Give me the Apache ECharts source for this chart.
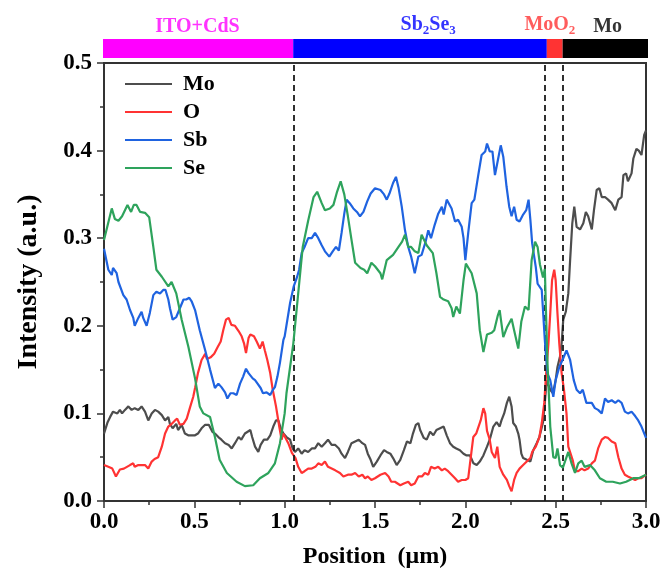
<!DOCTYPE html>
<html>
<head>
<meta charset="utf-8">
<script src="https://cdn.jsdelivr.net/npm/echarts@6/dist/echarts.min.js"></script>
<style>
html,body{margin:0;padding:0;background:#fff;}
#chart{width:669px;height:585px;}
</style>
</head>
<body>
<div id="chart"></div>
<script>
// ---- layer bar ----
const layerNames = ['ITO+CdS', 'Sb2Se3', 'MoO2', 'Mo'];
const layerStart = [0, 1.047, 2.443, 2.53];
const layerEnd = [1.047, 2.443, 2.53, 3.0];
const layerLabelPos = [0.52, 1.79, 2.46, 2.778];
const layerColors = ['#ff00ff', '#0000ff', '#ff3333', '#000000'];

// ---- interface dashed lines ----
const interfaces = [1.05, 2.445, 2.535];

// ---- axis ticks ----
const xTicks = [0.0, 0.5, 1.0, 1.5, 2.0, 2.5, 3.0];
const yTicks = [0.0, 0.1, 0.2, 0.3, 0.4, 0.5];

// ---- series ----
const seriesNames = ['Mo', 'O', 'Sb', 'Se'];

const moX = [0,0.02,0.034,0.05,0.06,0.074,0.088,0.10,0.116,0.135,0.153,0.17,0.19,0.208,0.227,0.245,0.264,0.282,0.30,0.32,0.338,0.356,0.365,0.38,0.40,0.41,0.43,0.448,0.466,0.485,0.504,0.52,0.54,0.56,0.58,0.60,0.614,0.633,0.65,0.67,0.69,0.707,0.725,0.745,0.76,0.78,0.79,0.81,0.82,0.836,0.854,0.867,0.885,0.904,0.92,0.937,0.952,0.965,0.978,0.993,1.01,1.03,1.044,1.057,1.075,1.094,1.11,1.13,1.15,1.168,1.186,1.205,1.223,1.24,1.26,1.28,1.30,1.315,1.334,1.35,1.37,1.39,1.41,1.43,1.445,1.46,1.476,1.49,1.51,1.53,1.55,1.565,1.585,1.60,1.62,1.64,1.66,1.677,1.696,1.71,1.726,1.74,1.75,1.77,1.786,1.805,1.823,1.84,1.86,1.88,1.897,1.915,1.933,1.95,1.97,1.99,2.007,2.026,2.045,2.063,2.08,2.10,2.12,2.135,2.155,2.173,2.19,2.20,2.215,2.23,2.243,2.256,2.265,2.28,2.293,2.30,2.31,2.32,2.34,2.36,2.376,2.395,2.41,2.43,2.44,2.45,2.46,2.47,2.485,2.50,2.51,2.524,2.533,2.542,2.556,2.57,2.58,2.592,2.603,2.616,2.635,2.653,2.667,2.68,2.70,2.712,2.727,2.742,2.755,2.773,2.79,2.81,2.83,2.847,2.865,2.875,2.89,2.90,2.92,2.93,2.947,2.96,2.975,2.99,3.0];
const moY = [0.077,0.09,0.096,0.102,0.102,0.10,0.104,0.10,0.104,0.108,0.104,0.106,0.104,0.108,0.102,0.092,0.10,0.104,0.102,0.098,0.092,0.096,0.088,0.083,0.088,0.081,0.087,0.077,0.075,0.075,0.075,0.077,0.083,0.087,0.087,0.079,0.077,0.073,0.07,0.066,0.064,0.06,0.066,0.073,0.07,0.077,0.079,0.081,0.073,0.062,0.056,0.064,0.07,0.07,0.075,0.085,0.092,0.092,0.083,0.077,0.073,0.07,0.06,0.056,0.06,0.054,0.058,0.056,0.06,0.06,0.066,0.062,0.066,0.07,0.064,0.064,0.06,0.054,0.049,0.056,0.066,0.068,0.07,0.066,0.064,0.054,0.047,0.039,0.045,0.052,0.058,0.056,0.054,0.049,0.041,0.047,0.058,0.068,0.066,0.077,0.087,0.089,0.081,0.072,0.07,0.079,0.075,0.081,0.083,0.085,0.075,0.066,0.062,0.06,0.058,0.054,0.052,0.052,0.043,0.041,0.045,0.052,0.062,0.07,0.085,0.09,0.085,0.092,0.10,0.112,0.119,0.108,0.089,0.085,0.077,0.07,0.054,0.049,0.047,0.045,0.058,0.066,0.073,0.09,0.112,0.138,0.14,0.127,0.123,0.138,0.153,0.165,0.18,0.207,0.216,0.237,0.275,0.317,0.336,0.313,0.31,0.317,0.33,0.325,0.31,0.332,0.355,0.357,0.347,0.347,0.344,0.34,0.332,0.344,0.347,0.372,0.374,0.365,0.374,0.391,0.402,0.40,0.395,0.418,0.423];

const oX = [0,0.024,0.046,0.066,0.088,0.11,0.144,0.162,0.17,0.19,0.227,0.245,0.264,0.28,0.30,0.32,0.338,0.356,0.374,0.393,0.405,0.42,0.44,0.458,0.475,0.494,0.504,0.52,0.54,0.56,0.57,0.59,0.61,0.63,0.646,0.66,0.675,0.69,0.705,0.725,0.745,0.762,0.775,0.786,0.80,0.81,0.83,0.845,0.863,0.878,0.89,0.904,0.92,0.934,0.952,0.97,0.983,0.992,1.02,1.04,1.06,1.075,1.094,1.11,1.13,1.15,1.17,1.186,1.205,1.223,1.24,1.26,1.28,1.306,1.325,1.35,1.37,1.39,1.41,1.43,1.445,1.46,1.48,1.50,1.53,1.556,1.575,1.59,1.61,1.64,1.66,1.684,1.70,1.72,1.74,1.76,1.776,1.795,1.81,1.83,1.85,1.87,1.886,1.905,1.924,1.943,1.96,1.98,2.0,2.016,2.035,2.044,2.06,2.085,2.10,2.11,2.12,2.135,2.146,2.164,2.177,2.19,2.21,2.23,2.243,2.256,2.27,2.284,2.30,2.32,2.34,2.36,2.37,2.39,2.41,2.423,2.437,2.446,2.46,2.47,2.48,2.492,2.50,2.51,2.52,2.533,2.546,2.56,2.57,2.58,2.595,2.607,2.625,2.644,2.66,2.68,2.70,2.717,2.735,2.755,2.773,2.79,2.81,2.83,2.847,2.865,2.883,2.90,2.92,2.94,2.957,2.975,3.0];
const oY = [0.041,0.039,0.037,0.028,0.036,0.037,0.041,0.043,0.039,0.041,0.041,0.037,0.045,0.048,0.05,0.062,0.077,0.085,0.088,0.092,0.094,0.087,0.088,0.094,0.106,0.119,0.129,0.146,0.161,0.168,0.162,0.164,0.168,0.176,0.182,0.195,0.207,0.209,0.201,0.20,0.194,0.188,0.18,0.169,0.186,0.19,0.188,0.182,0.174,0.182,0.172,0.161,0.146,0.127,0.108,0.085,0.07,0.077,0.066,0.055,0.049,0.039,0.032,0.034,0.037,0.037,0.039,0.043,0.041,0.045,0.039,0.037,0.035,0.032,0.028,0.03,0.03,0.032,0.028,0.03,0.026,0.028,0.024,0.026,0.03,0.032,0.028,0.022,0.022,0.018,0.02,0.022,0.018,0.02,0.028,0.028,0.032,0.03,0.039,0.037,0.039,0.035,0.037,0.034,0.03,0.026,0.022,0.024,0.024,0.026,0.058,0.073,0.077,0.092,0.106,0.10,0.08,0.07,0.056,0.049,0.062,0.039,0.03,0.024,0.017,0.011,0.024,0.032,0.037,0.041,0.045,0.049,0.056,0.062,0.073,0.089,0.112,0.142,0.18,0.214,0.252,0.264,0.252,0.214,0.18,0.146,0.127,0.10,0.062,0.06,0.046,0.034,0.034,0.037,0.035,0.037,0.043,0.046,0.06,0.07,0.073,0.072,0.068,0.066,0.05,0.037,0.03,0.028,0.026,0.024,0.026,0.026,0.03];

const sbX = [0,0.024,0.043,0.05,0.07,0.08,0.09,0.107,0.125,0.144,0.162,0.17,0.19,0.208,0.217,0.236,0.254,0.273,0.29,0.31,0.328,0.34,0.356,0.365,0.38,0.40,0.42,0.44,0.455,0.472,0.485,0.504,0.53,0.56,0.587,0.614,0.633,0.65,0.67,0.683,0.70,0.716,0.734,0.753,0.77,0.786,0.80,0.823,0.836,0.85,0.867,0.88,0.90,0.92,0.935,0.946,0.96,0.974,0.993,1.0,1.03,1.05,1.066,1.08,1.094,1.11,1.13,1.15,1.168,1.186,1.205,1.223,1.247,1.266,1.284,1.30,1.315,1.33,1.343,1.36,1.38,1.40,1.417,1.436,1.457,1.476,1.50,1.53,1.55,1.565,1.58,1.60,1.616,1.63,1.648,1.666,1.684,1.70,1.72,1.74,1.758,1.78,1.795,1.81,1.83,1.85,1.87,1.88,1.897,1.905,1.924,1.943,1.96,1.98,1.99,2.0,2.016,2.035,2.05,2.07,2.09,2.11,2.12,2.135,2.15,2.164,2.18,2.196,2.21,2.228,2.243,2.256,2.27,2.284,2.30,2.32,2.337,2.35,2.36,2.37,2.39,2.40,2.423,2.44,2.454,2.47,2.487,2.50,2.52,2.542,2.56,2.58,2.6,2.616,2.635,2.65,2.67,2.70,2.717,2.735,2.755,2.773,2.79,2.81,2.83,2.847,2.865,2.883,2.90,2.92,2.94,2.957,2.975,3.0];
const sbY = [0.288,0.264,0.258,0.266,0.26,0.25,0.252,0.235,0.23,0.218,0.209,0.20,0.209,0.216,0.209,0.20,0.215,0.235,0.239,0.237,0.241,0.241,0.23,0.22,0.207,0.21,0.22,0.23,0.23,0.232,0.228,0.218,0.195,0.172,0.15,0.129,0.134,0.13,0.124,0.117,0.123,0.123,0.121,0.134,0.142,0.151,0.146,0.14,0.138,0.134,0.129,0.123,0.124,0.121,0.127,0.13,0.142,0.158,0.184,0.188,0.226,0.245,0.254,0.264,0.283,0.29,0.30,0.30,0.306,0.30,0.292,0.285,0.279,0.285,0.29,0.286,0.306,0.328,0.344,0.34,0.334,0.33,0.325,0.33,0.342,0.351,0.357,0.355,0.35,0.344,0.351,0.363,0.37,0.358,0.336,0.309,0.29,0.279,0.26,0.279,0.281,0.296,0.309,0.30,0.315,0.328,0.336,0.327,0.344,0.346,0.334,0.319,0.321,0.313,0.30,0.275,0.306,0.34,0.344,0.37,0.395,0.399,0.408,0.399,0.399,0.372,0.389,0.406,0.393,0.359,0.336,0.325,0.336,0.321,0.319,0.327,0.332,0.344,0.321,0.294,0.267,0.248,0.241,0.184,0.146,0.138,0.119,0.138,0.153,0.163,0.172,0.161,0.138,0.127,0.123,0.127,0.112,0.112,0.106,0.104,0.10,0.117,0.113,0.115,0.112,0.115,0.112,0.102,0.10,0.102,0.097,0.092,0.085,0.072];

const seX = [0,0.043,0.06,0.08,0.10,0.13,0.15,0.165,0.18,0.20,0.227,0.25,0.273,0.29,0.32,0.356,0.374,0.40,0.43,0.467,0.504,0.53,0.55,0.587,0.614,0.64,0.68,0.734,0.78,0.826,0.863,0.91,0.946,0.974,1.0,1.01,1.048,1.075,1.10,1.13,1.16,1.18,1.205,1.223,1.25,1.27,1.29,1.31,1.33,1.35,1.37,1.39,1.42,1.44,1.457,1.48,1.50,1.53,1.54,1.565,1.60,1.63,1.65,1.666,1.684,1.70,1.72,1.74,1.758,1.786,1.82,1.84,1.86,1.88,1.905,1.924,1.933,1.95,1.97,1.99,2.003,2.035,2.063,2.08,2.10,2.12,2.146,2.16,2.18,2.19,2.21,2.23,2.256,2.27,2.293,2.31,2.33,2.35,2.367,2.386,2.40,2.413,2.43,2.44,2.454,2.47,2.487,2.50,2.51,2.524,2.54,2.57,2.588,2.607,2.625,2.644,2.66,2.69,2.717,2.745,2.78,2.816,2.856,2.89,2.93,2.96,3.0];
const seY = [0.298,0.334,0.322,0.32,0.325,0.338,0.33,0.338,0.338,0.33,0.329,0.324,0.29,0.264,0.256,0.245,0.25,0.237,0.207,0.176,0.14,0.108,0.10,0.096,0.073,0.047,0.032,0.022,0.017,0.018,0.026,0.032,0.043,0.066,0.10,0.123,0.18,0.237,0.29,0.32,0.347,0.353,0.34,0.332,0.334,0.338,0.353,0.365,0.35,0.325,0.298,0.272,0.266,0.264,0.26,0.272,0.268,0.26,0.253,0.275,0.281,0.29,0.296,0.304,0.29,0.29,0.285,0.283,0.304,0.292,0.283,0.26,0.233,0.23,0.228,0.22,0.21,0.222,0.214,0.252,0.271,0.26,0.237,0.195,0.17,0.19,0.192,0.195,0.212,0.218,0.187,0.198,0.208,0.195,0.174,0.205,0.222,0.218,0.275,0.296,0.29,0.27,0.255,0.265,0.161,0.085,0.05,0.049,0.06,0.041,0.038,0.056,0.043,0.032,0.043,0.046,0.039,0.041,0.035,0.026,0.022,0.022,0.02,0.022,0.026,0.026,0.03];

const seriesX = [moX, oX, sbX, seX];
const seriesY = [moY, oY, sbY, seY];
const seriesColors = ['#4d4d4d', '#ff3333', '#1f63e0', '#2ea35c'];

const FONT = 'Liberation Serif';
const chart = echarts.init(document.getElementById('chart'), null, {renderer: 'canvas'});

const zip = (xs, ys) => xs.map((x, i) => [x, ys[i]]);

const lineSeries = seriesNames.map((name, i) => ({
  name: name,
  type: 'line',
  xAxisIndex: 0, yAxisIndex: 0,
  data: zip(seriesX[i], seriesY[i]),
  symbol: 'none',
  showSymbol: false,
  smooth: false,
  lineStyle: {color: seriesColors[i], width: 2.2},
  itemStyle: {color: seriesColors[i]},
  animation: false,
  z: 3 + i
}));

// dashed interface lines
lineSeries.push({
  name: 'interfaces',
  type: 'line',
  xAxisIndex: 0, yAxisIndex: 0,
  data: [],
  silent: true,
  animation: false,
  markLine: {
    silent: true,
    symbol: ['none', 'none'],
    label: {show: false},
    lineStyle: {color: '#1a1a1a', type: [6, 4], width: 1.8},
    animation: false,
    data: interfaces.map(v => ({xAxis: v}))
  },
  z: 10
});

const richLabel = {
  n: {fontFamily: FONT, fontWeight: 'bold', fontSize: 20},
  s: {fontFamily: FONT, fontWeight: 'bold', fontSize: 13, padding: [11, 0, 0, 0]}
};
const labelText = ['{n|ITO+CdS}', '{n|Sb}{s|2}{n|Se}{s|3}', '{n|MoO}{s|2}', '{n|Mo}'];

const option = {
  backgroundColor: '#fff',
  animation: false,
  grid: [
    {left: 104, right: 23, top: 63, bottom: 84, show: true, borderColor: '#333', borderWidth: 2, backgroundColor: 'transparent'},
    {left: 103, right: 21, top: 39, height: 19}
  ],
  legend: {
    data: seriesNames,
    orient: 'vertical',
    left: 125, top: 73,
    padding: 0,
    itemWidth: 47, itemHeight: 14, itemGap: 6,
    icon: 'path://M0,6 L47,6 L47,8 L0,8 Z',
    textStyle: {fontFamily: FONT, fontWeight: 'bold', fontSize: 22, color: '#000', padding: [0, 0, 0, 6]}
  },
  xAxis: [
    {
      type: 'value', gridIndex: 0, min: 0, max: 3, interval: 0.5,
      name: 'Position  (\u03bcm)', nameLocation: 'middle', nameGap: 44,
      nameTextStyle: {fontFamily: FONT, fontWeight: 'bold', fontSize: 24, color: '#000'},
      axisLine: {show: true, onZero: false, lineStyle: {color: '#333', width: 2}},
      axisTick: {show: true, inside: false, length: 7, lineStyle: {color: '#333', width: 1.5}},
      minorTick: {show: true, splitNumber: 2, length: 4, lineStyle: {color: '#333', width: 1.5}},
      splitLine: {show: false},
      axisLabel: {fontFamily: FONT, fontWeight: 'bold', fontSize: 23, color: '#000', margin: 10,
        formatter: v => xTicks.some(t => Math.abs(t - v) < 1e-9) ? v.toFixed(1) : ''}
    },
    {
      type: 'value', gridIndex: 1, min: 0, max: 3, show: false
    }
  ],
  yAxis: [
    {
      type: 'value', gridIndex: 0, min: 0, max: 0.5, interval: 0.1,
      name: 'Intensity (a.u.)', nameLocation: 'middle', nameGap: 61,
      nameTextStyle: {fontFamily: FONT, fontWeight: 'bold', fontSize: 28, color: '#000'},
      axisLine: {show: true, onZero: false, lineStyle: {color: '#333', width: 2}},
      axisTick: {show: true, inside: false, length: 7, lineStyle: {color: '#333', width: 1.5}},
      minorTick: {show: true, splitNumber: 2, length: 4, lineStyle: {color: '#333', width: 1.5}},
      splitLine: {show: false},
      axisLabel: {fontFamily: FONT, fontWeight: 'bold', fontSize: 23, color: '#000', margin: 12,
        formatter: v => yTicks.some(t => Math.abs(t - v) < 1e-9) ? v.toFixed(1) : ''}
    },
    {
      type: 'value', gridIndex: 1, min: 0, max: 1, show: false
    }
  ],
  series: lineSeries.concat([
    {
      name: 'layers',
      type: 'custom',
      xAxisIndex: 1, yAxisIndex: 1,
      silent: true,
      animation: false,
      data: layerNames.map((n, i) => [layerStart[i], layerEnd[i], i]),
      renderItem: function (params, api) {
        const p0 = api.coord([api.value(0), 1]);
        const p1 = api.coord([api.value(1), 0]);
        const idx = api.value(2);
        return {
          type: 'rect',
          shape: {x: p0[0], y: p0[1], width: p1[0] - p0[0], height: p1[1] - p0[1]},
          style: {fill: layerColors[idx]}
        };
      }
    },
    {
      name: 'layerLabels',
      type: 'scatter',
      xAxisIndex: 1, yAxisIndex: 1,
      silent: true,
      animation: false,
      symbolSize: 0,
      data: layerNames.map((n, i) => ({
        value: [layerLabelPos[i], 1],
        label: {
          show: true, position: 'top', distance: 2,
          formatter: labelText[i],
          color: layerColors[i],
          rich: {
            n: Object.assign({}, richLabel.n, {color: layerColors[i]}),
            s: Object.assign({}, richLabel.s, {color: layerColors[i]})
          }
        }
      }))
    }
  ])
};

chart.setOption(option);
</script>
</body>
</html>
